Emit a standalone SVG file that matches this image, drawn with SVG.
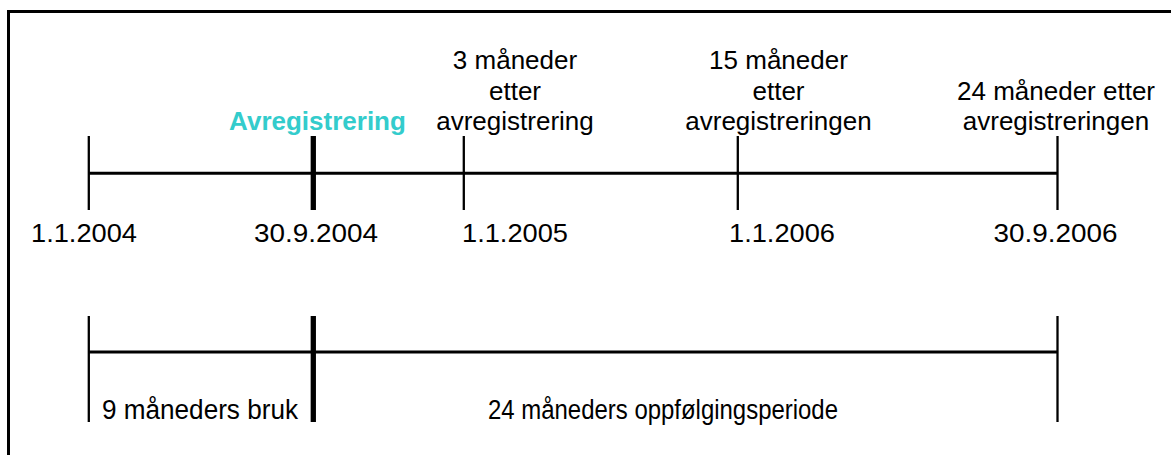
<svg xmlns="http://www.w3.org/2000/svg" width="1171" height="455" viewBox="0 0 1171 455">
<style>
.t{font-family:"Liberation Sans",Arial,sans-serif;font-size:26px;fill:#000;text-anchor:middle}
.b{font-size:27px}
.hl{font-family:"Liberation Sans",Arial,sans-serif;font-size:26px;font-weight:bold;fill:#33CCCC;text-anchor:middle}
.ln{stroke:#000;stroke-width:3;fill:none}
.tk{stroke:#000;stroke-width:2.3;fill:none}
.tkb{stroke:#000;stroke-width:5.3;fill:none}
</style>
<rect x="8.5" y="11.5" width="1200" height="500" fill="#fff" stroke="#000" stroke-width="3"/>
<g id="connectors">
<line class="ln" x1="89" y1="173.3" x2="1057.5" y2="173.3"/>
<line class="ln" x1="89" y1="352" x2="1057.5" y2="352"/>
</g>
<g id="t2004">
<line class="tk" x1="88.8" y1="136" x2="88.8" y2="210"/>
<text class="t" x="84" y="242" textLength="106" lengthAdjust="spacingAndGlyphs">1.1.2004</text>
</g>
<g id="avreg">
<line class="tkb" x1="313.3" y1="136" x2="313.3" y2="210"/>
<text class="hl" x="317.5" y="130">Avregistrering</text>
<text class="t" x="316" y="242" textLength="124" lengthAdjust="spacingAndGlyphs">30.9.2004</text>
</g>
<g id="t2005">
<line class="tk" x1="463.8" y1="136" x2="463.8" y2="210"/>
<text class="t" x="515" y="69">3 måneder</text>
<text class="t" x="515" y="100">etter</text>
<text class="t" x="515" y="130">avregistrering</text>
<text class="t" x="515" y="242" textLength="106" lengthAdjust="spacingAndGlyphs">1.1.2005</text>
</g>
<g id="t2006">
<line class="tk" x1="737.8" y1="136" x2="737.8" y2="210"/>
<text class="t" x="778.5" y="69">15 måneder</text>
<text class="t" x="778.5" y="100">etter</text>
<text class="t" x="778.5" y="130">avregistreringen</text>
<text class="t" x="782" y="242" textLength="106" lengthAdjust="spacingAndGlyphs">1.1.2006</text>
</g>
<g id="t2006b">
<line class="tk" x1="1057.5" y1="136" x2="1057.5" y2="210"/>
<text class="t" x="1056" y="100">24 måneder etter</text>
<text class="t" x="1056" y="130">avregistreringen</text>
<text class="t" x="1055.5" y="242" textLength="124" lengthAdjust="spacingAndGlyphs">30.9.2006</text>
</g>
<g id="bruk">
<line class="tk" x1="88.8" y1="316" x2="88.8" y2="422"/>
<text class="t b" x="200" y="419" textLength="196" lengthAdjust="spacingAndGlyphs">9 måneders bruk</text>
</g>
<g id="oppfolging">
<line class="tkb" x1="313.3" y1="316" x2="313.3" y2="422"/>
<line class="tk" x1="1057.5" y1="316" x2="1057.5" y2="422"/>
<text class="t b" x="663" y="419" textLength="350" lengthAdjust="spacingAndGlyphs">24 måneders oppfølgingsperiode</text>
</g>
</svg>
